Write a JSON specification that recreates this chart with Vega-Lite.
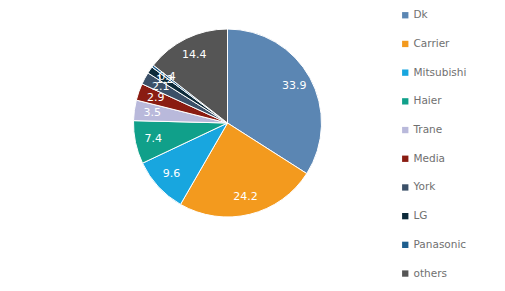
{
  "$schema": "https://vega.github.io/schema/vega-lite/v6.json",
  "width": 455,
  "height": 246,
  "autosize": {"type": "none"},
  "padding": {"left": 0, "top": 0, "right": 50, "bottom": 45},
  "background": "white",
  "data": {"values": [
    {"brand": "Dk", "share": 33.9, "rank": 1},
    {"brand": "Carrier", "share": 24.2, "rank": 2},
    {"brand": "Mitsubishi", "share": 9.6, "rank": 3},
    {"brand": "Haier", "share": 7.4, "rank": 4},
    {"brand": "Trane", "share": 3.5, "rank": 5},
    {"brand": "Media", "share": 2.9, "rank": 6},
    {"brand": "York", "share": 2.1, "rank": 7},
    {"brand": "LG", "share": 1.2, "rank": 8},
    {"brand": "Panasonic", "share": 0.4, "rank": 9},
    {"brand": "others", "share": 14.4, "rank": 10}
  ]},
  "encoding": {
    "theta": {"field": "share", "type": "quantitative", "stack": true},
    "order": {"field": "rank", "type": "quantitative"},
    "color": {
      "field": "brand", "type": "nominal",
      "scale": {
        "domain": ["Dk", "Carrier", "Mitsubishi", "Haier", "Trane", "Media", "York", "LG", "Panasonic", "others"],
        "range": ["#5B86B3", "#F39A1E", "#18A6DF", "#10A08A", "#B9B9DB", "#8A1C12", "#3B5068", "#0C2A3A", "#1E5E8E", "#555555"]
      },
      "legend": {
        "orient": "none", "legendX": 400, "legendY": 10,
        "title": null, "symbolType": "square", "symbolSize": 40,
        "symbolStrokeWidth": 0,
        "labelFont": "DejaVu Sans", "labelFontSize": 10.5, "labelColor": "#707070",
        "rowPadding": 17.7, "labelOffset": 3
      }
    }
  },
  "layer": [
    {"mark": {"type": "arc", "outerRadius": 94, "stroke": "white", "strokeWidth": 1}},
    {"mark": {"type": "text", "radius": 76, "font": "DejaVu Sans", "fontSize": 11},
     "encoding": {
       "text": {"field": "share", "type": "quantitative", "format": ".1f"},
       "color": {"value": "white"}
     }}
  ]
}
